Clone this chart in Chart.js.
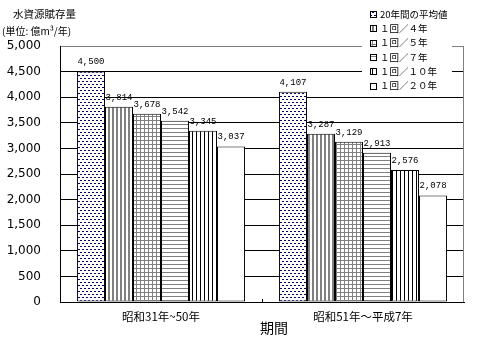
<!DOCTYPE html>
<html>
<head>
<meta charset="utf-8">
<script src="https://cdn.jsdelivr.net/npm/chart.js@4.4.1/dist/chart.umd.min.js"></script>
<style>
  html, body { margin: 0; padding: 0; background: #fff; }
  #c { display: block; }
</style>
</head>
<body>
<canvas id="c" width="489" height="343"></canvas>
<script>
// Periods (categories)
const categories = ['昭和31年~50年', '昭和51年～平成7年'];

// Series names
const seriesNames = ['20年間の平均値', '１回／４年', '１回／５年', '１回／７年', '１回／１０年', '１回／２０年'];

// Water resource volume (100 million m³ / year)
const avg20Years = [4500, 4107];
const once4Years = [3814, 3287];
const once5Years = [3678, 3129];
const once7Years = [3542, 2913];
const once10Years = [3345, 2576];
const once20Years = [3037, 2078];

// Value axis
const yMin = 0;
const yMax = 5000;
const yStep = 500;

const axisTitle = '期間';
const chartTitle = '水資源賦存量';
const unitLabel = '(単位: 億m³/年)';

const fmt = v => v.toLocaleString('en-US');

// Fill patterns for the bars
function makePattern(w, h, draw) {
  const c = document.createElement('canvas');
  c.width = w; c.height = h;
  const g = c.getContext('2d');
  g.fillStyle = '#fff';
  g.fillRect(0, 0, w, h);
  draw(g);
  return document.getElementById('c').getContext('2d').createPattern(c, 'repeat');
}
const patDots = makePattern(4, 6, g => {
  g.fillStyle = '#000080';
  g.fillRect(0, 0, 2, 1);
  g.fillRect(2, 3, 2, 1);
});
const patVGray = makePattern(4, 4, g => {
  g.fillStyle = '#808080';
  g.fillRect(0, 0, 2, 4);
});
const patGrid = makePattern(4, 4, g => {
  g.fillStyle = '#808080';
  g.fillRect(0, 0, 1, 4);
  g.fillRect(0, 0, 4, 1);
});
const patHGray = makePattern(4, 4, g => {
  g.fillStyle = '#808080';
  g.fillRect(0, 0, 4, 1);
});
const patVBlack = makePattern(4, 4, g => {
  g.fillStyle = '#000';
  g.fillRect(0, 0, 1, 4);
});
const fills = [patDots, patVGray, patGrid, patHGray, patVBlack, '#ffffff'];
const seriesData = [avg20Years, once4Years, once5Years, once7Years, once10Years, once20Years];

const datasets = seriesNames.map((name, i) => ({
  label: name,
  data: seriesData[i],
  backgroundColor: fills[i],
  borderColor: '#000',
  borderWidth: 1,
  borderSkipped: false,
  barPercentage: 1.0,
  categoryPercentage: 0.832
}));

const decorations = {
  id: 'decorations',
  beforeDraw(chart) {
    const ctx = chart.ctx;
    ctx.save();
    ctx.fillStyle = '#fff';
    ctx.fillRect(0, 0, chart.width, chart.height);
    ctx.restore();
  },
  beforeDatasetsDraw(chart) {
    const { ctx, chartArea: a } = chart;
    ctx.save();
    ctx.strokeStyle = '#808080';
    ctx.lineWidth = 1;
    ctx.beginPath();
    ctx.moveTo(a.right - 0.5, a.top);
    ctx.lineTo(a.right - 0.5, a.bottom);
    ctx.stroke();
    ctx.restore();
  },
  afterDatasetsDraw(chart) {
    const ctx = chart.ctx;
    ctx.save();
    ctx.fillStyle = '#000';
    ctx.font = '9px "Liberation Mono", monospace';
    ctx.textAlign = 'center';
    ctx.textBaseline = 'bottom';
    chart.data.datasets.forEach((ds, i) => {
      chart.getDatasetMeta(i).data.forEach((bar, j) => {
        ctx.fillText(fmt(ds.data[j]), bar.x, bar.y - 5);
      });
    });
    ctx.restore();
  },
  afterDraw(chart) {
    const { ctx, chartArea: a } = chart;
    ctx.save();
    // legend panel
    ctx.fillStyle = '#fff';
    ctx.fillRect(362, 4, 90, 91);
    ctx.font = '9.5px "Noto Sans CJK JP", sans-serif';
    ctx.textAlign = 'left';
    ctx.textBaseline = 'middle';
    chart.data.datasets.forEach((ds, i) => {
      const cy = 14 + i * 14.3;
      const bx = 370, by = Math.round(cy - 3);
      ctx.fillStyle = ds.backgroundColor;
      ctx.fillRect(bx, by, 6, 6);
      ctx.strokeStyle = '#000';
      ctx.lineWidth = 1;
      ctx.strokeRect(bx + 0.5, by + 0.5, 6, 6);
      ctx.fillStyle = '#000';
      ctx.fillText(ds.label, 380, cy);
    });
    // titles
    ctx.fillStyle = '#000';
    ctx.font = '10.5px "Noto Sans CJK JP", sans-serif';
    ctx.fillText(chartTitle, 13, 14);
    ctx.font = '10px "Noto Sans CJK JP", sans-serif';
    ctx.fillText(unitLabel, 2, 31);
    // axis title
    ctx.font = '14px "Noto Sans CJK JP", sans-serif';
    ctx.textAlign = 'center';
    ctx.fillText(axisTitle, (a.left + a.right) / 2 + 12, 328);
    // category separator tick
    const xs = chart.scales.x;
    const mid = (xs.getPixelForValue(0) + xs.getPixelForValue(1)) / 2;
    ctx.strokeStyle = '#000';
    ctx.beginPath();
    ctx.moveTo(Math.round(mid) + 0.5, a.bottom);
    ctx.lineTo(Math.round(mid) + 0.5, a.bottom - 3);
    ctx.stroke();
    ctx.restore();
  }
};

new Chart(document.getElementById('c'), {
  type: 'bar',
  data: { labels: categories, datasets },
  options: {
    responsive: false,
    animation: false,
    layout: { padding: { top: 46, right: 25, left: 0, bottom: 0 } },
    plugins: {
      legend: { display: false },
      tooltip: { enabled: false }
    },
    scales: {
      x: {
        grid: { display: true, color: 'rgba(0,0,0,0)', drawTicks: false },
        border: { display: true, color: '#000', width: 1 },
        ticks: {
          color: '#000',
          padding: 8,
          font: { family: '"Noto Sans CJK JP", sans-serif', size: 11.5 }
        },
        afterFit(s) { s.height = 41; }
      },
      y: {
        min: yMin,
        max: yMax,
        grid: {
          drawTicks: false,
          color: c => (c.tick && c.tick.value === yMax) ? '#808080' : '#000',
          lineWidth: 1
        },
        border: { display: true, color: '#000', width: 1 },
        ticks: {
          stepSize: yStep,
          color: '#000',
          padding: 19,
          font: { family: '"DejaVu Sans", sans-serif', size: 12 },
          callback: v => fmt(v)
        },
        afterFit(s) { s.width = 60; }
      }
    }
  },
  plugins: [decorations]
});
</script>
</body>
</html>
